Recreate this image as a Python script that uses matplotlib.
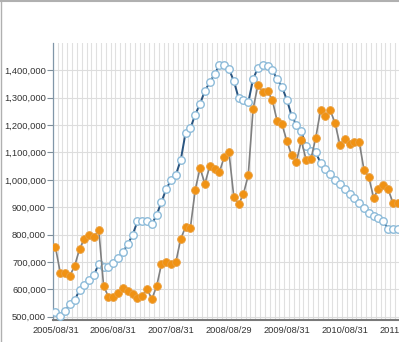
import matplotlib
matplotlib.use("Agg")
import matplotlib.pyplot as plt
from matplotlib.lines import Line2D
from matplotlib.ticker import FuncFormatter

# ==========================
# Dati (mensili, da 2005/08)
# ==========================
orange_vals = [755, 661, 659, 650, 686, 747, 785, 800, 792, 816,
               612, 573, 573, 588, 604, 594, 582, 570, 576, 602,
               564, 612, 692, 701, 694, 701, 785, 828, 825, 964,
               1043, 986, 1049, 1039, 1027, 1083, 1100, 939, 910, 949,
               1017, 1259, 1346, 1321, 1325, 1291, 1214, 1203, 1142, 1090,
               1067, 1144, 1073, 1076, 1154, 1254, 1232, 1254, 1208, 1128,
               1149, 1132, 1140, 1140, 1037, 1010, 935, 966, 982, 966,
               917, 917, 917]

blue_vals = [516, 501, 522, 546, 560, 598, 616, 634, 652, 694,
             683, 683, 695, 714, 736, 765, 798, 848, 848, 848,
             838, 872, 920, 967, 1000, 1019, 1073, 1172, 1189, 1238,
             1278, 1325, 1356, 1386, 1419, 1421, 1404, 1362, 1299, 1291,
             1283, 1368, 1409, 1421, 1415, 1400, 1368, 1339, 1293, 1234,
             1201, 1177, 1122, 1106, 1100, 1062, 1040, 1020, 1000, 985,
             965, 950, 935, 915, 898, 880, 868, 862, 850, 820,
             822, 820, 818]

orange_vals = [v * 1000 for v in orange_vals]
blue_vals = [v * 1000 for v in blue_vals]
months = list(range(len(orange_vals)))

xtick_pos = [0, 12, 24, 36, 48, 60, 72]
xtick_labels = ["2005/08/31", "2006/08/31", "2007/08/31", "2008/08/29",
                "2009/08/31", "2010/08/31", "2011/08/31"]
ytick_vals = [500000, 600000, 700000, 800000, 900000,
              1000000, 1100000, 1200000, 1300000, 1400000]

# ==========================
# Plot
# ==========================
plt.rcParams['font.family'] = ['Liberation Sans', 'DejaVu Sans']

fig = plt.figure(figsize=(3.99, 3.42), dpi=100)
ax = fig.add_axes([53 / 399, 22 / 342, 364 / 399, 277 / 342])

# griglia
for m in range(-1, 80):
    ax.axvline(m + 0.45, color='#e0e0e0', lw=0.8, zorder=0)
for yv in ytick_vals:
    ax.axhline(yv, color='#dddddd', lw=0.8, zorder=0)

ax.plot(months, blue_vals, '-', color='#2a5580', lw=1.4, zorder=3,
        marker='o', ms=5.4, mfc='white', mec='#8dbbd9', mew=1.0)
ax.plot(months, orange_vals, '-', color='#808080', lw=1.2, zorder=4,
        marker='o', ms=5.6, mfc='#f09214', mec='#eba040', mew=0.6)

ax.set_xlim(-0.5, 75)
ax.set_ylim(488000, 1500000)

ax.set_yticks(ytick_vals)
ax.yaxis.set_major_formatter(FuncFormatter(lambda v, p: f"{int(v):,}"))
ax.set_xticks(xtick_pos)
ax.set_xticklabels(xtick_labels)

ax.tick_params(axis='y', length=4, width=0.8, color='#7f8f9a', pad=1,
               labelsize=6.7, labelcolor='#333333')
ax.tick_params(axis='x', length=0, pad=4, labelsize=6.7, labelcolor='#333333')

for s in ['top', 'right']:
    ax.spines[s].set_visible(False)
ax.spines['left'].set_color('#8096a8')
ax.spines['left'].set_linewidth(0.9)
ax.spines['bottom'].set_color('#7a7a7a')
ax.spines['bottom'].set_linewidth(1.5)

# cornice della figura (alto e sinistra)
fig.add_artist(Line2D([0, 1], [1 - 0.5 / 342, 1 - 0.5 / 342], color='#b0b0b0', lw=1.5))
fig.add_artist(Line2D([0.5 / 399, 0.5 / 399], [0, 1], color='#b0b0b0', lw=1.0))

fig.savefig("out.png", dpi=100)
